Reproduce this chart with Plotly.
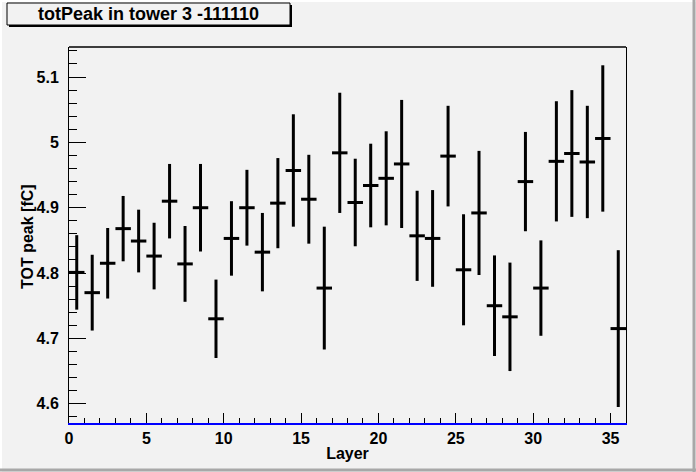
import plotly.graph_objects as go

# Data (one point per layer, bin centre = layer + 0.5)
layers = list(range(36))
tot_peak = [4.801, 4.770, 4.815, 4.868, 4.849, 4.826, 4.910, 4.814, 4.900,
            4.730, 4.853, 4.900, 4.832, 4.907, 4.957, 4.913, 4.777, 4.984,
            4.908, 4.934, 4.945, 4.967, 4.857, 4.853, 4.979, 4.805, 4.892,
            4.750, 4.733, 4.940, 4.777, 4.971, 4.983, 4.970, 5.006, 4.715]
tot_err = [0.057, 0.058, 0.054, 0.050, 0.048, 0.051, 0.057, 0.058, 0.067,
           0.060, 0.057, 0.058, 0.060, 0.069, 0.086, 0.068, 0.094, 0.092,
           0.067, 0.064, 0.072, 0.098, 0.069, 0.074, 0.077, 0.085, 0.095,
           0.077, 0.083, 0.076, 0.073, 0.092, 0.097, 0.086, 0.112, 0.120]

title_text = "totPeak in tower 3 -111110"
x_title = "Layer"
y_title = "TOT peak [fC]"

W, H = 696, 472
L, R, T, B = 69, 70, 47, 49
PW, PH = W - L - R, H - T - B
BG = "#f2f2f2"
FONT = "Liberation Sans, Arial, sans-serif"


def px(x):
    return (x - L) / PW


def py(y):
    return (T + PH - y) / PH


bin_centres = [l + 0.5 for l in layers]

fig = go.Figure()
fig.add_trace(go.Scatter(
    x=bin_centres, y=tot_peak, mode="markers",
    marker=dict(size=1, color="black", opacity=0),
    error_y=dict(type="data", array=tot_err, visible=True,
                 color="black", thickness=3, width=0),
    error_x=dict(type="constant", value=0.5, visible=True,
                 color="black", thickness=3, width=0),
    showlegend=False, hoverinfo="x+y",
))

shapes = [
    # top frame line
    dict(type="line", xref="paper", yref="paper", x0=0, x1=1, y0=1, y1=1,
         line=dict(color="black", width=1.5)),
    # title box shadow + box
    dict(type="rect", xref="paper", yref="paper",
         x0=px(9), x1=px(292), y0=py(5), y1=py(27),
         line=dict(width=0), fillcolor="black", layer="above"),
    dict(type="rect", xref="paper", yref="paper",
         x0=px(7), x1=px(290), y0=py(3), y1=py(25),
         line=dict(color="black", width=1), fillcolor=BG, layer="above"),
    # canvas bevel
    dict(type="line", xref="paper", yref="paper", x0=px(0), x1=px(W), y0=py(1), y1=py(1),
         line=dict(color="white", width=2)),
    dict(type="line", xref="paper", yref="paper", x0=px(1), x1=px(1), y0=py(0), y1=py(H),
         line=dict(color="white", width=2)),
    dict(type="line", xref="paper", yref="paper", x0=px(0), x1=px(W), y0=py(H - 2), y1=py(H - 2),
         line=dict(color="#a8a8a8", width=3)),
    dict(type="line", xref="paper", yref="paper", x0=px(W - 2), x1=px(W - 2), y0=py(0), y1=py(H),
         line=dict(color="#a8a8a8", width=3)),
]

fig.update_layout(
    width=W, height=H, autosize=False,
    margin=dict(l=L, r=R, t=T, b=B),
    paper_bgcolor=BG, plot_bgcolor=BG,
    font=dict(family=FONT, size=15, color="black", weight="bold"),
    shapes=shapes,
    annotations=[
        dict(text=title_text, xref="paper", yref="paper",
             x=px(148), y=py(14.5), xanchor="center", yanchor="middle",
             showarrow=False, font=dict(family=FONT, size=18, color="black", weight="bold")),
        dict(text=y_title, xref="paper", yref="paper", textangle=-90,
             x=px(28), y=py(237), xanchor="center", yanchor="middle",
             showarrow=False, font=dict(family=FONT, size=16, color="black", weight="bold")),
    ],
    xaxis=dict(
        range=[0, 36], showgrid=False, zeroline=False, automargin=False,
        showline=True, linecolor="blue", linewidth=2, mirror=False,
        ticks="inside", ticklen=10, tickwidth=1, tickcolor="black",
        tick0=0, dtick=5,
        minor=dict(ticks="inside", ticklen=5, dtick=1, tick0=0, tickcolor="black", showgrid=False),
        tickfont=dict(family=FONT, size=16, weight="bold"),
        ticklabelstandoff=0,
        title=dict(text=x_title, font=dict(family=FONT, size=16, weight="bold"), standoff=2),
    ),
    yaxis=dict(
        range=[4.5705, 5.146], showgrid=False, zeroline=False, automargin=False,
        showline=True, linecolor="black", linewidth=1, mirror=True,
        ticks="inside", ticklen=17, tickwidth=1, tickcolor="black",
        tick0=4.6, dtick=0.1,
        minor=dict(ticks="inside", ticklen=8, dtick=0.02, tick0=4.6, tickcolor="black", showgrid=False),
        tickfont=dict(family=FONT, size=16, weight="bold"),
        ticklabelstandoff=6,
    ),
)

fig.write_html("out.html", config={"displayModeBar": False},
               post_script="document.body.style.margin='0';")
